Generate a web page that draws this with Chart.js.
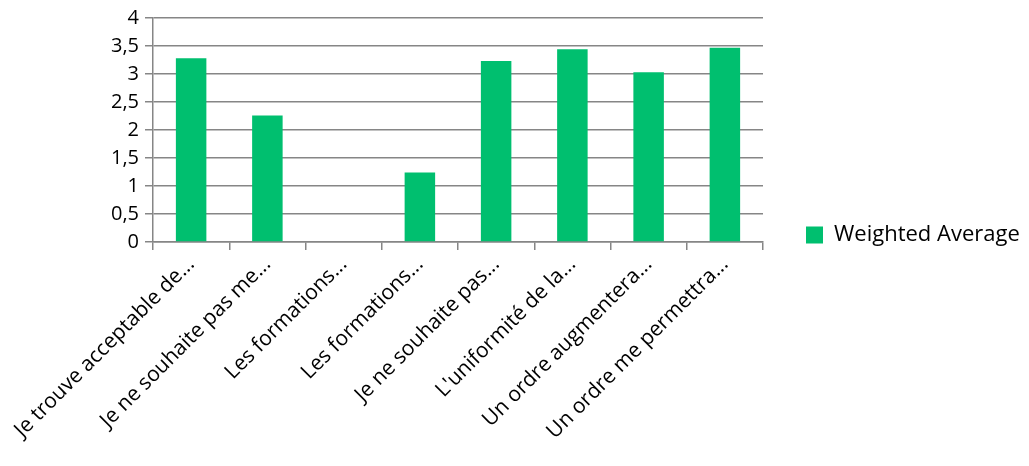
<!DOCTYPE html>
<html>
<head>
<meta charset="utf-8">
<script src="https://cdn.jsdelivr.net/npm/chart.js@4"></script>
<style>
  html, body { margin: 0; padding: 0; background: #fff; }
  #wrap { width: 1029px; height: 466px; }
</style>
</head>
<body>
<div id="wrap"><canvas id="barchart"></canvas></div>
<script>
var categories = [
    'Je trouve acceptable de...',
    'Je ne souhaite pas me...',
    'Les formations...',
    'Les formations...',
    'Je ne souhaite pas...',
    "L'uniformité de la...",
    'Un ordre augmentera...',
    'Un ordre me permettra...'
];
var weightedAverage = [3.28, 2.26, 0, 1.24, 3.23, 3.44, 3.03, 3.47];
var yTicks = [0, 0.5, 1, 1.5, 2, 2.5, 3, 3.5, 4];

var gridColor = '#868686';
var fontFamily = "'Open Sans', 'Liberation Sans', sans-serif";

// pin the legend box width so the plot area ends where the original does
var legendWidthPlugin = {
    id: 'legendWidth',
    beforeLayout: function (chart) {
        var legend = chart.legend;
        if (legend && !legend._fixedWidth) {
            var fit = legend.fit;
            legend.fit = function () {
                fit.call(this);
                this.width = 266;
            };
            legend._fixedWidth = true;
        }
    }
};

var ctx = document.getElementById('barchart').getContext('2d');
var myChart = new Chart(ctx, {
    type: 'bar',
    data: {
        labels: categories,
        datasets: [{
            label: 'Weighted Average',
            data: weightedAverage,
            backgroundColor: '#00BF6F',
            borderWidth: 0,
            categoryPercentage: 1,
            barPercentage: 0.4
        }]
    },
    plugins: [legendWidthPlugin],
    options: {
        responsive: true,
        maintainAspectRatio: false,
        animation: false,
        layout: {
            padding: { left: 0, right: 0, top: 4, bottom: 0 }
        },
        plugins: {
            legend: {
                position: 'right',
                labels: {
                    boxWidth: 17,
                    boxHeight: 17,
                    padding: 43,
                    color: '#000',
                    font: { family: fontFamily, size: 22 }
                }
            },
            tooltip: { enabled: false }
        },
        scales: {
            x: {
                afterFit: function (scale) { scale.height = 224; },
                grid: {
                    offset: true,
                    drawOnChartArea: false,
                    drawTicks: true,
                    tickLength: 8,
                    color: gridColor,
                    lineWidth: 1.5
                },
                border: { color: gridColor, width: 1.5 },
                ticks: {
                    minRotation: 45,
                    maxRotation: 45,
                    autoSkip: false,
                    color: '#000',
                    padding: 2,
                    font: { family: fontFamily, size: 21 }
                }
            },
            y: {
                min: 0,
                max: 4,
                afterFit: function (scale) { scale.width = 153; },
                afterBuildTicks: function (axis) {
                    axis.ticks = yTicks.map(function (v) { return { value: v }; });
                },
                grid: {
                    color: gridColor,
                    lineWidth: 1.5,
                    drawTicks: true,
                    tickLength: 8
                },
                border: { color: gridColor, width: 1.5 },
                ticks: {
                    color: '#000',
                    padding: 6,
                    font: { family: fontFamily, size: 20 },
                    callback: function (v) { return String(v).replace('.', ','); }
                }
            }
        }
    }
});
</script>
</body>
</html>
